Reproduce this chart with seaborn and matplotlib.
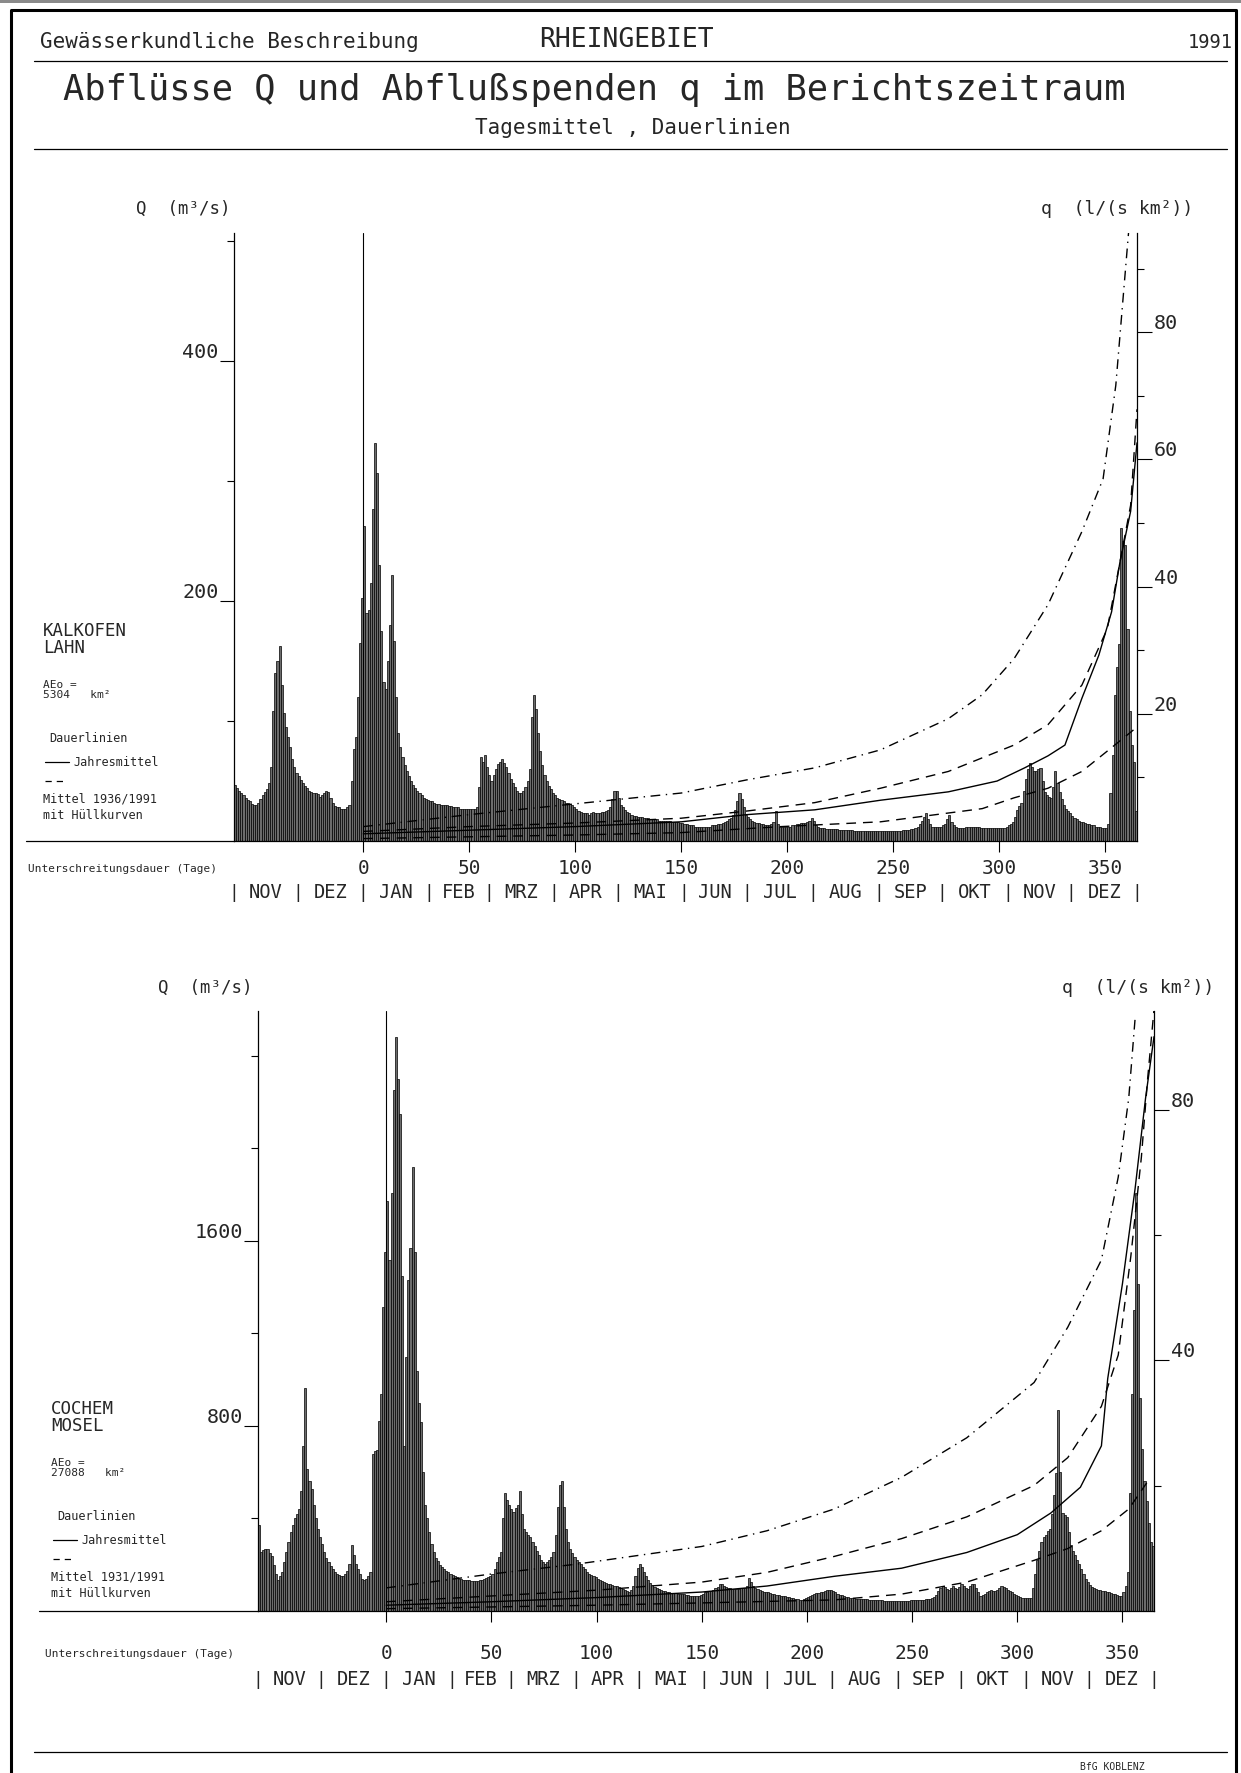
import numpy as np
import pandas as pd
import seaborn as sns
import matplotlib.pyplot as plt
from matplotlib import transforms
from matplotlib.lines import Line2D
from matplotlib.patches import Rectangle
from matplotlib.ticker import FixedLocator

# day 0 = 1 Jan 1991, daily means from 1 Nov 1990 (-61) to 31 Dec 1991 (364)
days = np.arange(-61, 365)

# Kalkofen / Lahn, daily mean discharge Q (m3/s)
lahn_q = [
    47, 44, 42, 40, 38, 36, 34, 33, 31, 30,
    30, 32, 35, 38, 41, 43, 48, 62, 108, 140,
    150, 163, 130, 107, 95, 87, 78, 68, 62, 57,
    54, 51, 48, 46, 44, 42, 41, 40, 40, 39,
    37, 38, 40, 42, 41, 36, 32, 29, 28, 28,
    27, 27, 27, 28, 30, 50, 77, 87, 120, 165,
    203, 263, 190, 193, 215, 277, 332, 307, 230, 175,
    133, 127, 150, 180, 222, 167, 120, 90, 78, 70,
    63, 58, 54, 50, 47, 44, 42, 40, 38, 36,
    35, 34, 33, 33, 32, 31, 31, 30, 30, 30,
    30, 29, 29, 28, 28, 28, 27, 27, 27, 27,
    27, 27, 27, 27, 28, 45, 70, 66, 72, 62,
    55, 50, 55, 60, 64, 66, 68, 65, 62, 57,
    52, 48, 45, 42, 40, 40, 42, 45, 50, 60,
    103, 122, 110, 90, 75, 63, 55, 50, 46, 43,
    40, 38, 36, 35, 34, 33, 32, 32, 31, 30,
    28, 27, 25, 24, 23, 23, 23, 22, 23, 24,
    23, 23, 23, 24, 24, 25, 26, 28, 35, 42,
    42, 36, 30, 28, 26, 24, 23, 22, 21, 21,
    20, 20, 20, 19, 19, 19, 18, 18, 18, 18,
    17, 17, 17, 17, 17, 17, 16, 16, 16, 16,
    15, 15, 14, 14, 13, 13, 13, 12, 12, 12,
    12, 12, 12, 12, 12, 13, 13, 13, 14, 14,
    15, 16, 17, 18, 19, 22, 26, 33, 40, 35,
    28, 22, 20, 18, 17, 16, 15, 15, 14, 14,
    13, 13, 13, 14, 16, 25, 14, 12, 12, 12,
    12, 12, 12, 13, 13, 14, 14, 15, 15, 15,
    16, 17, 19, 17, 13, 12, 11, 11, 11, 10,
    10, 10, 10, 10, 10, 9, 9, 9, 9, 9,
    9, 9, 8, 8, 8, 8, 8, 8, 8, 8,
    8, 8, 8, 8, 8, 8, 8, 8, 8, 8,
    8, 8, 8, 8, 8, 9, 9, 9, 9, 10,
    10, 11, 12, 14, 17, 20, 23, 18, 14, 12,
    12, 12, 12, 12, 13, 14, 18, 22, 16, 13,
    12, 11, 11, 11, 11, 12, 12, 12, 12, 12,
    12, 12, 11, 11, 11, 11, 11, 11, 11, 11,
    11, 11, 11, 11, 12, 13, 14, 16, 20, 26,
    29, 32, 42, 52, 60, 65, 62, 58, 58, 60,
    61, 50, 41, 38, 37, 36, 45, 58, 48, 41,
    35, 30, 27, 25, 23, 21, 19, 18, 17, 16,
    16, 15, 14, 14, 13, 13, 12, 12, 12, 11,
    11, 11, 14, 40, 72, 122, 145, 164, 261, 250,
    247, 177, 108, 80, 66, 25,
]

# Cochem / Mosel, daily mean discharge Q (m3/s)
mosel_q = [
    373, 253, 262, 268, 270, 250, 236, 200, 160, 133,
    150, 167, 210, 253, 300, 340, 373, 400, 420, 441,
    520, 714, 962, 612, 560, 526, 460, 400, 355, 320,
    290, 253, 230, 210, 195, 180, 167, 160, 155, 150,
    150, 160, 175, 202, 287, 240, 202, 180, 160, 140,
    133, 140, 150, 167, 680, 690, 697, 820, 937, 1313,
    1550, 1774, 1518, 1808, 2252, 2483, 2300, 2150, 1449, 714,
    1100, 1432, 1569, 1919, 1552, 1039, 900, 817, 600, 458,
    400, 340, 290, 253, 230, 215, 200, 190, 180, 172,
    167, 160, 155, 150, 145, 140, 137, 135, 133, 133,
    132, 131, 130, 130, 131, 133, 136, 140, 143, 147,
    150, 160, 180, 210, 235, 253, 400, 509, 480, 460,
    441, 430, 445, 458, 518, 420, 355, 340, 330, 321,
    300, 280, 260, 240, 219, 210, 205, 210, 220, 235,
    253, 330, 450, 543, 560, 450, 355, 300, 270, 250,
    235, 222, 210, 202, 190, 180, 170, 162, 155, 150,
    145, 140, 135, 130, 126, 122, 118, 116, 113, 110,
    106, 102, 98, 94, 90, 86, 84, 90, 110, 150,
    185, 202, 190, 170, 150, 135, 122, 112, 104, 98,
    94, 90, 87, 85, 82, 80, 78, 77, 76, 75,
    74, 73, 72, 70, 68, 67, 66, 65, 65, 64,
    70, 75, 80, 82, 85, 88, 92, 98, 105, 116,
    116, 110, 104, 100, 98, 96, 95, 96, 97, 98,
    99, 100, 110, 142, 125, 110, 100, 95, 90, 86,
    84, 82, 80, 78, 75, 72, 70, 68, 66, 65,
    65, 62, 60, 57, 55, 52, 50, 48, 48, 50,
    55, 60, 65, 70, 73, 76, 78, 80, 84, 88,
    90, 92, 90, 85, 80, 75, 70, 68, 65, 62,
    60, 58, 56, 55, 54, 53, 52, 51, 50, 50,
    49, 48, 48, 47, 47, 46, 46, 45, 45, 45,
    45, 45, 45, 44, 44, 44, 44, 45, 45, 45,
    46, 46, 47, 47, 48, 48, 49, 50, 50, 52,
    55, 60, 70, 85, 100, 110, 105, 95, 90, 99,
    110, 99, 95, 105, 116, 110, 100, 95, 108, 116,
    116, 100, 80, 65, 70, 75, 80, 85, 90, 88,
    85, 90, 100, 108, 104, 98, 90, 85, 80, 73,
    70, 66, 62, 58, 56, 55, 56, 56, 100, 160,
    219, 260, 300, 321, 330, 345, 355, 420, 500, 595,
    868, 600, 424, 415, 407, 340, 287, 260, 240, 220,
    202, 180, 160, 140, 125, 112, 104, 99, 95, 92,
    90, 87, 85, 82, 80, 77, 74, 72, 70, 67,
    65, 80, 110, 167, 509, 937, 1300, 1808, 1415, 919,
    700, 560, 475, 380, 300, 280,
]

assert len(lahn_q) == len(days) and len(mosel_q) == len(days)

# Dauerlinien (duration curves), x = Unterschreitungsdauer in days
lahn_upper_d = [0, 50, 100, 150, 181, 213, 244, 276, 292, 307, 323, 339, 349, 355, 361]
lahn_upper = [12, 22, 31, 40, 51, 61, 76, 102, 122, 152, 197, 258, 302, 380, 507]
lahn_mean_d = [0, 50, 100, 150, 181, 213, 244, 276, 307, 323, 339, 351, 357, 362, 365]
lahn_mean = [8, 12, 15, 19, 25, 32, 44, 58, 80, 97, 130, 177, 233, 280, 360]
lahn_year_d = [0, 50, 100, 150, 181, 213, 244, 276, 299, 312, 323, 331, 339, 347, 353, 357, 362, 365]
lahn_year = [6, 9, 12, 16, 22, 26, 34, 41, 50, 61, 71, 80, 119, 155, 191, 233, 275, 332]
lahn_lower_d = [0, 100, 150, 197, 244, 292, 307, 323, 339, 351, 358, 365]
lahn_lower = [2, 5, 7, 12, 16, 27, 36, 44, 58, 75, 85, 95]

mosel_upper_d = [0, 50, 90, 150, 181, 213, 245, 276, 308, 324, 340, 348, 353, 356]
mosel_upper = [100, 160, 202, 279, 347, 441, 578, 749, 988, 1227, 1518, 1876, 2218, 2560]
mosel_mean_d = [0, 50, 100, 150, 181, 213, 245, 276, 308, 324, 340, 348, 354, 359, 362, 365]
mosel_mean = [40, 65, 90, 125, 167, 236, 313, 407, 543, 663, 885, 1107, 1535, 1962, 2304, 2600]
mosel_year_d = [0, 50, 100, 150, 181, 213, 245, 276, 300, 316, 330, 340, 343, 350, 356, 361, 365]
mosel_year = [25, 40, 58, 82, 108, 150, 185, 253, 330, 424, 535, 714, 1005, 1415, 1825, 2218, 2483]
mosel_lower_d = [0, 100, 150, 213, 245, 276, 308, 324, 340, 353, 362]
mosel_lower = [10, 25, 35, 48, 73, 125, 219, 270, 347, 441, 560]

month_names = ['NOV', 'DEZ', 'JAN', 'FEB', 'MRZ', 'APR', 'MAI', 'JUN', 'JUL',
               'AUG', 'SEP', 'OKT', 'NOV', 'DEZ']
month_starts = [-61, -31, 0, 31, 59, 90, 120, 151, 181, 212, 243, 273, 304, 334, 365]

sns.set_theme(style='white')
plt.rcParams['font.family'] = ['DejaVu Sans Mono']

W, H = 1241, 1774
fig = plt.figure(figsize=(W / 100, H / 100), dpi=100)
fig.patch.set_facecolor('white')


def fx(x):
    return x / W


def fy(y):
    return 1 - y / H


def hline(x0, x1, y, lw=0.9, ls='-'):
    fig.add_artist(Line2D([fx(x0), fx(x1)], [fy(y), fy(y)], transform=fig.transFigure,
                          color='black', lw=lw, ls=ls))


def panel(rect, flows, curves, area, ymax, Q_major, Q_minor, q_major, q_minor,
          xpad, month_y, left_ext):
    ax = fig.add_axes(rect)
    df = pd.DataFrame({'day': days, 'Q': flows})
    sns.histplot(data=df, x='day', weights='Q', binwidth=1, binrange=(-61, 365),
                 color='#6c6c6c', edgecolor='black', linewidth=0.5, alpha=1, ax=ax)
    for dx, dy, ls in curves:
        sns.lineplot(x=dx, y=dy, ax=ax, color='black', linewidth=1.0, linestyle=ls)
    ax.axvline(0, color='black', lw=0.8)
    ax.plot([left_ext, -61], [0, 0], color='black', lw=0.9, clip_on=False)
    ax.set_xlim(-61, 365)
    ax.set_ylim(0, ymax)
    ax.set_xlabel('')
    ax.set_ylabel('')
    for side in ['top', 'right']:
        ax.spines[side].set_visible(False)
    for side in ['left', 'bottom']:
        ax.spines[side].set_color('black')
        ax.spines[side].set_linewidth(0.9)

    ax.set_xticks(range(0, 351, 50))
    ax.tick_params(axis='x', length=8, width=0.8, direction='out', pad=xpad,
                   labelsize=14, color='black', bottom=True)
    ax.set_yticks(Q_major, [str(v) for v in Q_major], va='bottom')
    ax.yaxis.set_minor_locator(FixedLocator(Q_minor))
    ax.tick_params(axis='y', which='major', length=10, width=0.8, direction='out',
                   pad=1, labelsize=14.5, color='black', left=True)
    ax.tick_params(axis='y', which='minor', length=5, width=0.8, direction='out',
                   color='black', left=True)

    sec = ax.secondary_yaxis('right', functions=(lambda v: v * 1000 / area,
                                                 lambda v: v * area / 1000))
    sec.set_yticks(q_major, [str(v) for v in q_major], va='bottom')
    sec.yaxis.set_minor_locator(FixedLocator(q_minor))
    sec.tick_params(which='major', length=11, width=0.8, direction='out', pad=1,
                    labelsize=14.5, color='black', right=True)
    sec.tick_params(which='minor', length=5, width=0.8, direction='out',
                    color='black', right=True)
    sec.spines['right'].set_color('black')
    sec.spines['right'].set_linewidth(0.9)

    trans = transforms.blended_transform_factory(ax.transData, fig.transFigure)
    for i, name in enumerate(month_names):
        mid = (month_starts[i] + month_starts[i + 1]) / 2
        ax.text(mid, fy(month_y), name, transform=trans, ha='center', va='center',
                fontsize=13.5)
    for s in month_starts:
        ax.text(s, fy(month_y), '|', transform=trans, ha='center', va='center',
                fontsize=13)
    return ax


lahn_curves = [
    (lahn_upper_d, lahn_upper, (0, (7, 4, 1, 4))),
    (lahn_mean_d, lahn_mean, (0, (7, 5))),
    (lahn_year_d, lahn_year, '-'),
    (lahn_lower_d, lahn_lower, (0, (7, 5))),
]
mosel_curves = [
    (mosel_upper_d, mosel_upper, (0, (7, 4, 1, 4))),
    (mosel_mean_d, mosel_mean, (0, (7, 5))),
    (mosel_year_d, mosel_year, '-'),
    (mosel_lower_d, mosel_lower, (0, (7, 5))),
]

panel([fx(234), fy(842), fx(1137) - fx(234), fy(234) - fy(842)], lahn_q, lahn_curves,
      5304, 507, [200, 400], [100, 300, 500], [20, 40, 60, 80], [10, 30, 50, 70, 90],
      4, 893, -159)
panel([fx(258), fy(1612), fx(1154) - fx(258), fy(1012) - fy(1612)], mosel_q, mosel_curves,
      27088, 2594, [800, 1600], [400, 1200, 2000, 2400], [40, 80], [20, 60],
      15, 1680, -165)

# page frame
fig.add_artist(Rectangle((0, fy(4)), 1, fy(0) - fy(4), transform=fig.transFigure,
                         color='#8a8a8a', lw=0))
fig.add_artist(Line2D([fx(11), fx(11), fx(1236), fx(1236)], [0, fy(10.5), fy(10.5), 0],
                      transform=fig.transFigure, color='black', lw=2.2))

# header
fig.text(fx(40), fy(42), 'Gewässerkundliche Beschreibung', fontsize=15, va='center')
fig.text(fx(626), fy(40), 'RHEINGEBIET', fontsize=19, ha='center', va='center')
fig.text(fx(1233), fy(42), '1991', fontsize=13.5, ha='right', va='center')
hline(34, 1227, 62)
fig.text(fx(594), fy(90), 'Abflüsse Q und Abflußspenden q im Berichtszeitraum',
         fontsize=25.5, ha='center', va='center')
fig.text(fx(633), fy(128), 'Tagesmittel , Dauerlinien', fontsize=15,
         ha='center', va='center')
hline(34, 1227, 150)

# axis unit labels
fig.text(fx(136), fy(209), 'Q  (m³/s)', fontsize=12.5, va='center')
fig.text(fx(1041), fy(209), 'q  (l/(s km²))', fontsize=13, va='center')
fig.text(fx(158), fy(988), 'Q  (m³/s)', fontsize=12.5, va='center')
fig.text(fx(1062), fy(988), 'q  (l/(s km²))', fontsize=13, va='center')


def station_block(x, y, name, river, area_txt, mittel):
    fig.text(fx(x), fy(y), name + '\n' + river, fontsize=12.5, va='top', linespacing=0.95)
    fig.text(fx(x), fy(y + 58), 'AEo =\n' + area_txt, fontsize=8, va='top', linespacing=0.95)
    fig.text(fx(x + 6), fy(y + 117), 'Dauerlinien', fontsize=8.5, va='center')
    fig.add_artist(Line2D([fx(x + 2), fx(x + 26)], [fy(y + 141)] * 2,
                          transform=fig.transFigure, color='black', lw=0.9))
    fig.text(fx(x + 30), fy(y + 141), 'Jahresmittel', fontsize=8.5, va='center')
    fig.add_artist(Line2D([fx(x + 2), fx(x + 24)], [fy(y + 160)] * 2,
                          transform=fig.transFigure, color='black', lw=0.9, ls=(0, (5, 4))))
    fig.text(fx(x), fy(y + 177), mittel, fontsize=8.5, va='center')
    fig.text(fx(x), fy(y + 194), 'mit Hüllkurven', fontsize=8.5, va='center')


station_block(43, 622, 'KALKOFEN', 'LAHN', '5304   km²', 'Mittel 1936/1991')
station_block(51, 1400, 'COCHEM', 'MOSEL', '27088   km²', 'Mittel 1931/1991')

fig.text(fx(28), fy(869), 'Unterschreitungsdauer (Tage)', fontsize=8, va='center')
fig.text(fx(45), fy(1654), 'Unterschreitungsdauer (Tage)', fontsize=8, va='center')

# footer
hline(34, 1227, 1753)
fig.text(fx(1080), fy(1767), 'BfG KOBLENZ', fontsize=7, va='center')

fig.savefig('out.png', dpi=100, facecolor='white')
